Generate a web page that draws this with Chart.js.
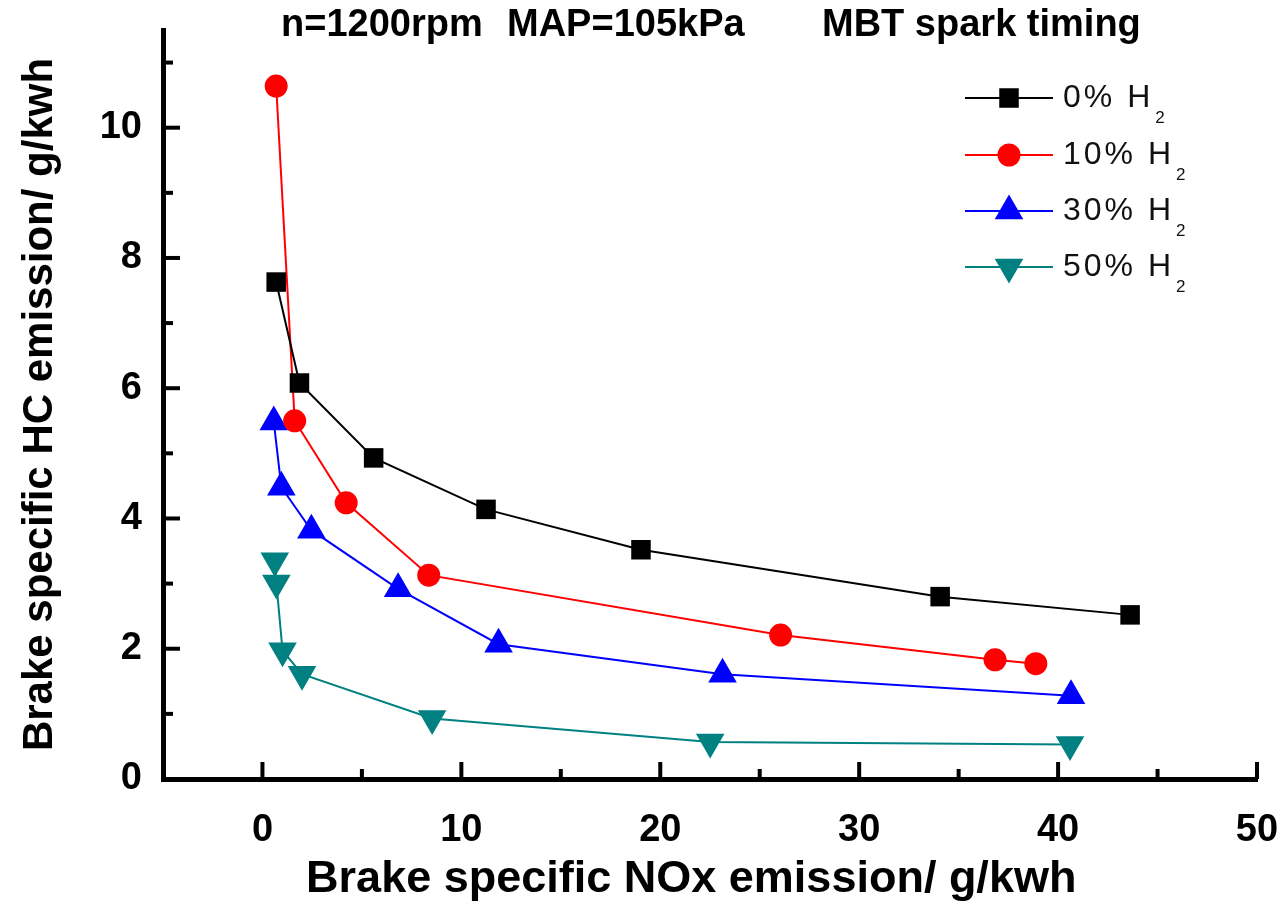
<!DOCTYPE html>
<html>
<head>
<meta charset="utf-8">
<script src="https://cdn.jsdelivr.net/npm/chart.js@4/dist/chart.umd.min.js"></script>
<style>
html,body{margin:0;padding:0;background:#fff;}
#wrap{width:1284px;height:904px;position:relative;}
</style>
</head>
<body>
<div id="wrap"><canvas id="c" width="1284" height="904"></canvas></div>
<script>
// ---------- text ----------
const TITLE_PARTS = ['n=1200rpm', 'MAP=105kPa', 'MBT spark timing'];
const X_TITLE = 'Brake specific NOx emission/ g/kwh';
const Y_TITLE = 'Brake specific HC emission/ g/kwh';
const SERIES_LABELS = ['0% H\u2082', '10% H\u2082', '30% H\u2082', '50% H\u2082'];

// ---------- tick labels ----------
const X_TICKS = [0, 10, 20, 30, 40, 50];
const Y_TICKS = [0, 2, 4, 6, 8, 10];

// ---------- data (NOx g/kWh, HC g/kWh) ----------
const nox_h0  = [0.69, 1.86, 5.59, 11.24, 19.03, 34.07, 43.62];
const hc_h0   = [7.63, 6.08, 4.93, 4.14, 3.52, 2.80, 2.52];
const nox_h10 = [0.69, 1.62, 4.21, 8.36, 26.05, 36.83, 38.88];
const hc_h10  = [10.64, 5.50, 4.24, 3.13, 2.21, 1.83, 1.77];
const nox_h30 = [0.57, 0.95, 2.46, 6.82, 11.87, 23.13, 40.65];
const hc_h30  = [5.48, 4.48, 3.82, 2.92, 2.07, 1.61, 1.28];
const nox_h50 = [0.62, 0.70, 1.01, 1.99, 8.53, 22.51, 40.60];
const hc_h50  = [3.35, 3.01, 1.97, 1.61, 0.93, 0.57, 0.53];

const FONT = "'Liberation Sans', Arial, Helvetica, sans-serif";
const pts = (xs, ys) => xs.map((x, i) => ({x: x, y: ys[i]}));

function ds(label, xs, ys, color, style, radius, rot) {
  return {
    label: label, data: pts(xs, ys),
    borderColor: color, backgroundColor: color,
    borderWidth: 2, showLine: true, tension: 0, fill: false,
    pointStyle: style, pointRadius: radius, pointHoverRadius: radius,
    pointRotation: rot, pointBorderWidth: 0,
    pointBackgroundColor: color, pointBorderColor: color
  };
}

const datasets = [
  ds(SERIES_LABELS[0], nox_h0,  hc_h0,  '#000000', 'rect',     13.8, 0),
  ds(SERIES_LABELS[1], nox_h10, hc_h10, '#ff0000', 'circle',   11.5, 0),
  ds(SERIES_LABELS[2], nox_h30, hc_h30, '#0000ff', 'triangle', 16.5, 0),
  ds(SERIES_LABELS[3], nox_h50, hc_h50, '#008080', 'triangle', 16.5, 180)
];

function drawMarker(ctx, style, r, rot, x, y) {
  ctx.beginPath();
  if (style === 'rect') {
    const s = Math.SQRT1_2 * r;
    ctx.rect(x - s, y - s, 2 * s, 2 * s);
  } else if (style === 'circle') {
    ctx.arc(x, y, r, 0, Math.PI * 2);
  } else {
    let rad = rot * Math.PI / 180;
    ctx.moveTo(x + Math.sin(rad) * r, y - Math.cos(rad) * r);
    rad += 2 * Math.PI / 3;
    ctx.lineTo(x + Math.sin(rad) * r, y - Math.cos(rad) * r);
    rad += 2 * Math.PI / 3;
    ctx.lineTo(x + Math.sin(rad) * r, y - Math.cos(rad) * r);
    ctx.closePath();
  }
  ctx.fill();
}

// inward major + minor ticks drawn from the scales' own ticks
const inwardTicks = {
  id: 'inwardTicks',
  beforeDatasetsDraw(chart) {
    const {ctx, chartArea: a, scales: {x, y}} = chart;
    ctx.save();
    ctx.strokeStyle = '#000';
    ctx.lineWidth = 4;
    const line = (x1, y1, x2, y2) => { ctx.beginPath(); ctx.moveTo(x1, y1); ctx.lineTo(x2, y2); ctx.stroke(); };
    const base = a.bottom;
    const xt = x.ticks.map(t => t.value);
    const xs = xt[1] - xt[0];
    xt.forEach(v => { if (v > x.min) { const p = x.getPixelForValue(v); line(p, base, p, base - 17); } });
    for (let v = xt[0] - xs / 2; v < x.max; v += xs) {
      if (v > x.min) { const p = x.getPixelForValue(v); line(p, base, p, base - 10); }
    }
    const left = a.left;
    const yt = y.ticks.map(t => t.value);
    const ys = yt[1] - yt[0];
    yt.forEach(v => { if (v > y.min) { const p = y.getPixelForValue(v); line(left, p, left + 17, p); } });
    for (let v = yt[0] + ys / 2; v < y.max; v += ys) {
      if (v > y.min) { const p = y.getPixelForValue(v); line(left, p, left + 10, p); }
    }
    ctx.restore();
  }
};

// header text + legend
const headerLegend = {
  id: 'headerLegend',
  afterDraw(chart) {
    const ctx = chart.ctx;
    ctx.save();
    ctx.fillStyle = '#000';
    ctx.font = 'bold 38px ' + FONT;
    ctx.textBaseline = 'middle';
    ctx.textAlign = 'left';
    const tx = [281, 507, 822];
    TITLE_PARTS.forEach((t, i) => ctx.fillText(t, tx[i], 26));

    const rows = [98, 155, 211, 267];
    chart.data.datasets.forEach((d, i) => {
      const yy = rows[i];
      ctx.strokeStyle = d.borderColor;
      ctx.lineWidth = 2;
      ctx.beginPath(); ctx.moveTo(965, yy); ctx.lineTo(1053, yy); ctx.stroke();
      ctx.fillStyle = d.backgroundColor;
      drawMarker(ctx, d.pointStyle, d.pointRadius, d.pointRotation, 1009, yy);
      const main = d.label.replace('\u2082', '');
      ctx.fillStyle = '#111';
      ctx.font = '32px ' + FONT;
      ctx.letterSpacing = '3px';
      ctx.textBaseline = 'middle';
      ctx.fillText(main, 1063, yy);
      const w = ctx.measureText(main).width;
      ctx.font = '17px ' + FONT;
      ctx.letterSpacing = '0px';
      ctx.fillText('2', 1063 + w + 2, yy + 20);
    });
    ctx.restore();
  }
};

new Chart(document.getElementById('c'), {
  type: 'scatter',
  data: { datasets: datasets },
  options: {
    responsive: false,
    animation: false,
    devicePixelRatio: 1,
    layout: { padding: { top: 30, right: 27, left: 0, bottom: 0 } },
    plugins: { legend: { display: false }, tooltip: { enabled: false }, title: { display: false } },
    elements: { line: { tension: 0 } },
    scales: {
      x: {
        type: 'linear', min: -5, max: 50,
        afterBuildTicks: s => { s.ticks = X_TICKS.map(v => ({value: v})); },
        afterFit: s => { s.height = 125; s.paddingLeft = 0; s.paddingRight = 0; },
        grid: { display: true, drawOnChartArea: false, drawTicks: false },
        border: { display: true, width: 5, color: '#000' },
        ticks: { color: '#000', font: { family: FONT, size: 38, weight: 'bold' }, padding: 29, maxRotation: 0, autoSkip: false },
        title: { display: true, text: X_TITLE + '   ', color: '#000', font: { family: FONT, size: 45, weight: 'bold', lineHeight: 1 }, padding: { top: 0, bottom: 2 } }
      },
      y: {
        type: 'linear', min: 0, max: 11.5,
        afterBuildTicks: s => { s.ticks = Y_TICKS.map(v => ({value: v})); },
        afterFit: s => { s.width = 163; s.paddingTop = 0; s.paddingBottom = 0; },
        grid: { display: true, drawOnChartArea: false, drawTicks: false },
        border: { display: true, width: 5, color: '#000' },
        ticks: { color: '#000', font: { family: FONT, size: 38, weight: 'bold' }, padding: 21, autoSkip: false },
        title: { display: true, text: Y_TITLE, color: '#000', font: { family: FONT, size: 42, weight: 'bold', lineHeight: 1 }, padding: { top: 19, bottom: 0 } }
      }
    }
  },
  plugins: [inwardTicks, headerLegend]
});
</script>
</body>
</html>
